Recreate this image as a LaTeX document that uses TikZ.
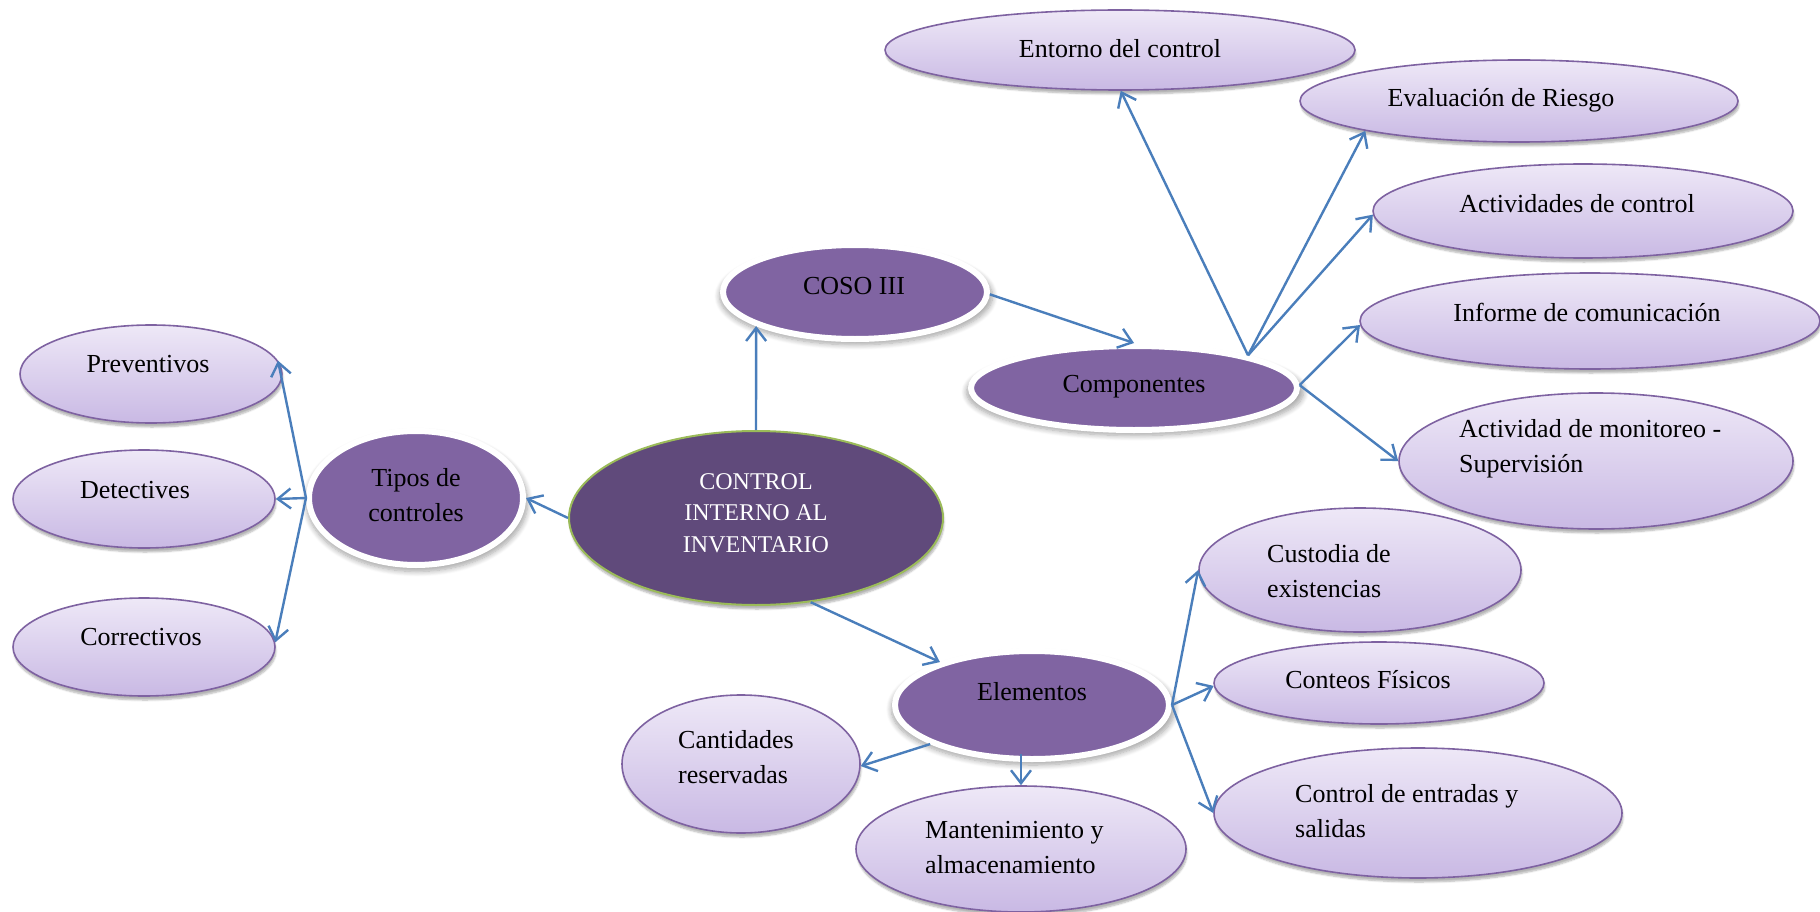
\documentclass[tikz,border=0pt]{standalone}
\usepackage{fontspec}
\setmainfont{Liberation Serif}
\usetikzlibrary{shapes.geometric,arrows.meta,shadows.blur}

\definecolor{lline}{HTML}{7E62A1}
\definecolor{ltop}{RGB}{238,232,247}
\definecolor{lbot}{RGB}{201,185,228}
\definecolor{mpurple}{HTML}{8064A2}
\definecolor{dpurple}{HTML}{604A7B}
\definecolor{cgreen}{HTML}{9BBB59}
\definecolor{lblue}{HTML}{4A7EBB}

\tikzset{
  softshadow/.style={blur shadow={shadow xshift=1pt, shadow yshift=-4pt,
      shadow blur steps=6, shadow opacity=30}},
  haloshadow/.style={blur shadow={shadow xshift=1pt, shadow yshift=-4pt,
      shadow scale=1.035, shadow blur steps=8, shadow blur radius=5pt,
      shadow opacity=35}},
  lite/.style={ellipse, draw=lline, line width=1.6pt, top color=ltop,
      bottom color=lbot, inner sep=0pt, softshadow},
  mid/.style={ellipse, draw=white, line width=6pt, fill=mpurple,
      inner sep=0pt, haloshadow},
  core/.style={ellipse, draw=cgreen, line width=2pt, fill=dpurple,
      inner sep=0pt, softshadow},
  link/.style={draw=lblue, line width=2.4pt,
      -{Straight Barb[length=13pt,width=20pt]}},
  lbl/.style={font=\fontsize{26}{35}\selectfont, inner sep=0pt, align=left},
  corelbl/.style={font=\fontsize{24}{31.5}\selectfont, inner sep=0pt,
      align=center, text=white},
}

\begin{document}
\begin{tikzpicture}[x=1pt,y=-1pt]
\useasboundingbox (0,0) rectangle (1820,912);

% central concept
\node[core, minimum width=374pt, minimum height=174pt] (main) at (756,518) {};

% second level
\node[mid, minimum width=264pt, minimum height=94pt]  (coso)  at (855,292) {};
\node[mid, minimum width=326pt, minimum height=84pt]  (comp)  at (1134,388) {};
\node[mid, minimum width=214pt, minimum height=134pt] (tipos) at (416,498) {};
\node[mid, minimum width=274pt, minimum height=108pt] (elem)  at (1032,705) {};

% components of COSO III
\node[lite, minimum width=470pt, minimum height=80pt]  (ent)  at (1120,50) {};
\node[lite, minimum width=438pt, minimum height=82pt]  (eval) at (1519,101) {};
\node[lite, minimum width=420pt, minimum height=94pt]  (act)  at (1583,211) {};
\node[lite, minimum width=460pt, minimum height=96pt]  (inf)  at (1590,321) {};
\node[lite, minimum width=394pt, minimum height=136pt] (mon)  at (1596,461) {};

% types of controls
\node[lite, minimum width=262pt, minimum height=98pt] (pre) at (151,374) {};
\node[lite, minimum width=262pt, minimum height=98pt] (det) at (144,499) {};
\node[lite, minimum width=262pt, minimum height=98pt] (cor) at (144,647) {};

% elements
\node[lite, minimum width=238pt, minimum height=138pt] (cant) at (741,764) {};
\node[lite, minimum width=330pt, minimum height=126pt] (mant) at (1021,849) {};
\node[lite, minimum width=322pt, minimum height=124pt] (cust) at (1360,570) {};
\node[lite, minimum width=330pt, minimum height=82pt]  (cont) at (1379,683) {};
\node[lite, minimum width=408pt, minimum height=130pt] (entr) at (1418,813) {};

% texts
\node[corelbl, anchor=north] (main-t) at (756,473) {CONTROL\\INTERNO AL\\INVENTARIO};
\node[lbl, anchor=base] (coso-t) at (854,294) {COSO III};
\node[lbl, anchor=base] (comp-t) at (1134,392) {Componentes};
\node[lbl, anchor=north, align=center] (tipos-t) at (416,468) {Tipos de\\controles};
\node[lbl, anchor=base] (elem-t) at (1032,700) {Elementos};

\node[lbl, anchor=base] (ent-t)  at (1120,58)  {Entorno del control};
\node[lbl, anchor=base] (eval-t) at (1501,107) {Evaluación de Riesgo};
\node[lbl, anchor=base] (act-t)  at (1577,213) {Actividades de control};
\node[lbl, anchor=base] (inf-t)  at (1587,321) {Informe de comunicación};
\node[lbl, anchor=north west] (mon-t) at (1459,419) {Actividad de monitoreo -\\Supervisión};

\node[lbl, anchor=base] (pre-t) at (148,372) {Preventivos};
\node[lbl, anchor=base] (det-t) at (135,498) {Detectives};
\node[lbl, anchor=base] (cor-t) at (141,645) {Correctivos};

\node[lbl, anchor=north west] (cant-t) at (678,730)  {Cantidades\\reservadas};
\node[lbl, anchor=north west] (mant-t) at (925,821)  {Mantenimiento y\\almacenamiento};
\node[lbl, anchor=north west] (cust-t) at (1267,544) {Custodia de\\existencias};
\node[lbl, anchor=base]       (cont-t) at (1368,688) {Conteos Físicos};
\node[lbl, anchor=north west] (entr-t) at (1295,784) {Control de entradas y\\salidas};

% connectors
\draw[link] (main.90) -- (coso.199);
\draw[link] (coso.-1) -- (comp.90);
\draw[link] (comp.16) -- (ent.-89);
\draw[link] (comp.16) -- (eval.191);
\draw[link] (comp.16) -- (act.181);
\draw[link] (comp.1) -- (inf.181);
\draw[link] (comp.1) -- (mon.180);

\draw[link] (main.180) -- (tipos.0);
\draw[link] (tipos.180) -- (pre.6);
\draw[link] (tipos.180) -- (det.0);
\draw[link] (tipos.180) -- (cor.2);

\draw[link] (main.-57) -- (elem.155);
\draw[link] (elem.201) -- (cant.-1);
\draw[link] ([yshift=8pt]mant.north |- elem.south) -- (mant.north);
\draw[link] (elem.east) -- (cust.180);
\draw[link] (elem.east) -- (cont.181);
\draw[link] (elem.east) -- (entr.180);
\end{tikzpicture}
\end{document}
